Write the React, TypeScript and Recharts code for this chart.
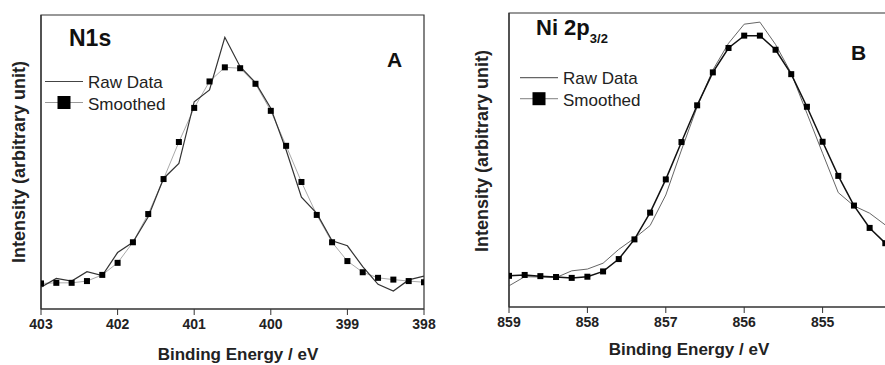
import React from 'react';
import { LineChart, Line, XAxis, YAxis, ReferenceArea } from 'recharts';

// N1s spectrum (panel A)
const n1sEnergy = [403.0, 402.8, 402.6, 402.4, 402.2, 402.0, 401.8, 401.6, 401.4, 401.2, 401.0, 400.8, 400.6, 400.4, 400.2, 400.0, 399.8, 399.6, 399.4, 399.2, 399.0, 398.8, 398.6, 398.4, 398.2, 398.0];
const n1sRaw = [7.4, 10.4, 9.5, 12.7, 11.4, 19.2, 22.7, 31.4, 44.4, 49.5, 70.5, 74.5, 92.4, 82.4, 77.0, 68.3, 54.1, 38.0, 32.5, 23.2, 21.5, 14.4, 8.4, 6.1, 9.9, 11.2];
const n1sSmoothed = [8.7, 8.9, 8.9, 9.5, 11.6, 15.7, 22.7, 32.3, 44.2, 56.8, 68.4, 77.4, 82.2, 81.9, 76.6, 67.4, 55.5, 43.2, 32.0, 22.7, 16.3, 12.5, 10.6, 10.0, 9.5, 9.1];
const n1sTicks = [403, 402, 401, 400, 399, 398];

// Ni 2p3/2 spectrum (panel B)
const niEnergy = [859.0, 858.8, 858.6, 858.4, 858.2, 858.0, 857.8, 857.6, 857.4, 857.2, 857.0, 856.8, 856.6, 856.4, 856.2, 856.0, 855.8, 855.6, 855.4, 855.2, 855.0, 854.8, 854.6, 854.4, 854.2];
const niRaw = [7.2, 10.3, 10.2, 10.0, 12.3, 12.9, 14.9, 19.6, 23.4, 27.7, 38.1, 53.4, 68.1, 80.6, 89.7, 96.2, 96.9, 89.3, 79.5, 65.9, 52.3, 38.9, 34.4, 31.9, 27.9];
const niSmoothed = [10.6, 10.9, 10.5, 10.2, 9.9, 10.3, 12.1, 16.3, 23.0, 32.1, 43.4, 56.1, 68.6, 79.8, 88.1, 92.3, 92.3, 87.5, 79.2, 68.1, 56.2, 44.6, 34.5, 26.9, 21.7];
const niTicks = [859, 858, 857, 856, 855];

const FONT = '"Liberation Sans", Arial, sans-serif';
const AXIS = '#333';

const n1sData = n1sEnergy.map((e, i) => ({ e, raw: n1sRaw[i], smooth: n1sSmoothed[i] }));
const niData = niEnergy.map((e, i) => ({ e, raw: niRaw[i], smooth: niSmoothed[i] }));

const square = (size: number) => (props: any) => {
  const { cx, cy, index } = props;
  if (cx == null || cy == null) return <g key={index} />;
  return <rect key={index} x={cx - size / 2} y={cy - size / 2} width={size} height={size} fill="#000" />;
};

const tickStyle = { fontSize: 14, fontWeight: 'bold', fill: '#222', fontFamily: FONT };

const Legend2 = ({ x, y, rawColor }: { x: number; y: number; rawColor: string }) => (
  <g fontFamily={FONT} fontSize={17} fill="#222">
    <line x1={x} x2={x + 38} y1={y} y2={y} stroke={rawColor} strokeWidth={1.2} />
    <text x={x + 43} y={y + 6.5}>Raw Data</text>
    <line x1={x} x2={x + 38} y1={y + 21} y2={y + 21} stroke="#999" strokeWidth={1.2} />
    <rect x={x + 12.5} y={y + 14.5} width={13} height={13} fill="#000" />
    <text x={x + 43} y={y + 28}>Smoothed</text>
  </g>
);

const App: React.FC = () => {
  return (
    <div style={{ position: 'absolute', left: 0, top: 0, width: 885, height: 365, overflow: 'hidden', background: '#fff' }}>
      <div style={{ position: 'absolute', left: 0, top: 0 }}>
        <LineChart width={440} height={365} data={n1sData} margin={{ top: 15, right: 16, bottom: 0, left: 0 }}>
          <XAxis
            dataKey="e"
            type="number"
            domain={[398, 403]}
            reversed
            ticks={n1sTicks}
            interval={0}
            height={56}
            tickSize={6}
            tickMargin={4}
            tick={tickStyle}
            axisLine={{ stroke: AXIS, strokeWidth: 1.2 }}
            tickLine={{ stroke: AXIS }}
            allowDataOverflow
          />
          <YAxis type="number" domain={[0, 100]} width={41} tick={false} tickLine={false} axisLine={{ stroke: AXIS, strokeWidth: 1.2 }} allowDataOverflow />
          <ReferenceArea x1={398} x2={403} y1={0} y2={100} fill="none" stroke={AXIS} strokeWidth={1.2} />
          <Line dataKey="smooth" stroke="#aaa" strokeWidth={1} dot={square(6)} isAnimationActive={false} />
          <Line dataKey="raw" stroke="#333" strokeWidth={1.2} dot={false} isAnimationActive={false} />
          <text x={69} y={46} fontFamily={FONT} fontSize={23} fontWeight="bold" fill="#111">N1s</text>
          <text x={387} y={67} fontFamily={FONT} fontSize={21} fontWeight="bold" fill="#111">A</text>
          <Legend2 x={45} y={81.5} rawColor="#444" />
          <text transform="translate(19,162) rotate(-90)" textAnchor="middle" dominantBaseline="central" fontFamily={FONT} fontSize={18} fontWeight="bold" fill="#222">
            Intensity (arbitrary unit)
          </text>
          <text x={238} y={359.5} textAnchor="middle" fontFamily={FONT} fontSize={17} fontWeight="bold" fill="#222">
            Binding Energy / eV
          </text>
        </LineChart>
      </div>
      <div style={{ position: 'absolute', left: 440, top: 0 }}>
        <LineChart width={461} height={365} data={niData} margin={{ top: 13, right: 0, bottom: 0, left: 0 }}>
          <XAxis
            dataKey="e"
            type="number"
            domain={[854, 859]}
            reversed
            ticks={niTicks}
            interval={0}
            height={58}
            tickSize={6}
            tickMargin={4}
            tick={tickStyle}
            axisLine={{ stroke: AXIS, strokeWidth: 1.2 }}
            tickLine={{ stroke: AXIS }}
            allowDataOverflow
          />
          <YAxis type="number" domain={[0, 100]} width={69} tick={false} tickLine={false} axisLine={{ stroke: AXIS, strokeWidth: 1.2 }} allowDataOverflow />
          <ReferenceArea x1={854} x2={859} y1={0} y2={100} fill="none" stroke={AXIS} strokeWidth={1.2} />
          <Line dataKey="raw" stroke="#666" strokeWidth={1} dot={false} isAnimationActive={false} />
          <Line dataKey="smooth" stroke="#111" strokeWidth={1.5} dot={square(6)} isAnimationActive={false} />
          <text x={96} y={35} fontFamily={FONT} fontSize={22} fontWeight="bold" fill="#111">
            Ni 2p
            <tspan fontSize={13} dy={8}>3/2</tspan>
          </text>
          <text x={411} y={60} fontFamily={FONT} fontSize={21} fontWeight="bold" fill="#111">B</text>
          <Legend2 x={80} y={77.7} rawColor="#666" />
          <text transform="translate(42,151) rotate(-90)" textAnchor="middle" dominantBaseline="central" fontFamily={FONT} fontSize={18} fontWeight="bold" fill="#222">
            Intensity (arbitrary unit)
          </text>
          <text x={249} y={355} textAnchor="middle" fontFamily={FONT} fontSize={17} fontWeight="bold" fill="#222">
            Binding Energy / eV
          </text>
        </LineChart>
      </div>
    </div>
  );
};

export default App;
